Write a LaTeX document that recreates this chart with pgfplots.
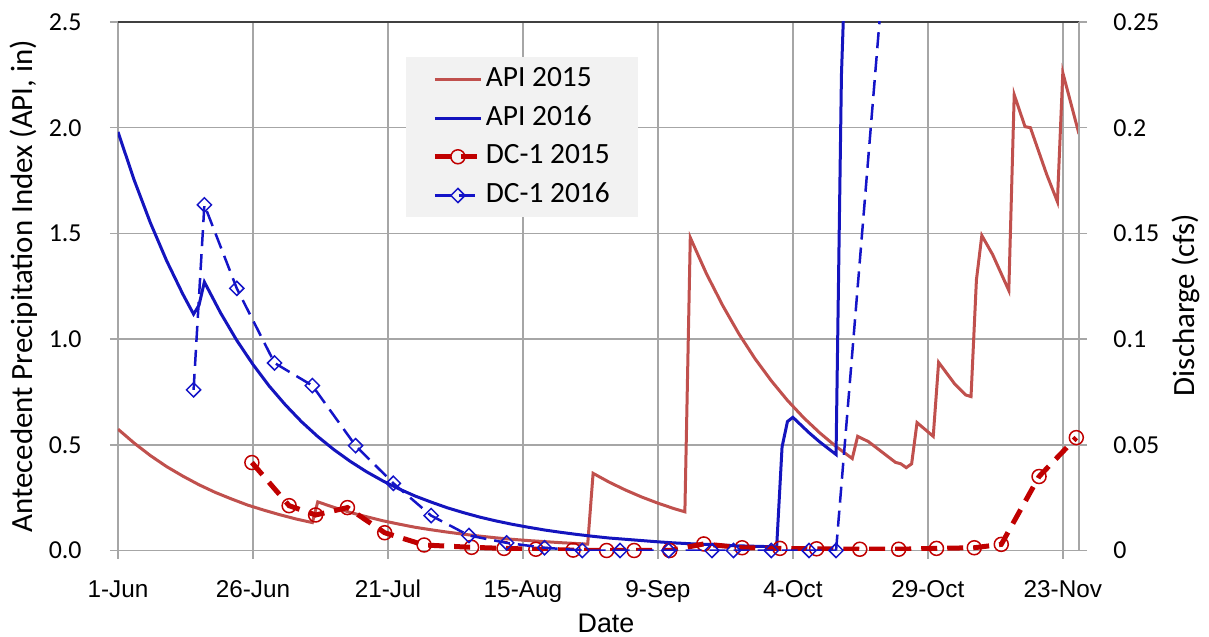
\documentclass[border=0pt]{standalone}
\usepackage{fontspec}
\setmainfont{Carlito}
\newfontfamily\arialf{Liberation Sans}
\usepackage{pgfplots}
\pgfplotsset{compat=1.18}

\definecolor{apiA}{RGB}{192,80,77}
\definecolor{apiB}{RGB}{20,20,190}
\definecolor{dcA}{RGB}{192,0,0}
\definecolor{dcB}{RGB}{20,20,200}
\definecolor{gridc}{RGB}{166,166,166}
\definecolor{legfill}{RGB}{242,242,242}

\begin{document}
\begin{tikzpicture}
\useasboundingbox (-59bp,-43.25bp) rectangle (545.5bp,275.25bp);
\pgfplotsset{
 common/.style={
  scale only axis, width=480.5bp, height=264.25bp,
  xmin=0, xmax=178, clip mode=individual,
  tick align=outside, major tick length=4bp,
  tick style={gridc, line width=0.75bp},
  axis line style={gridc, line width=0.75bp},
 }
}
\begin{axis}[common,
 ymin=0, ymax=2.5,
 ytick={0,0.5,1,1.5,2,2.5},
 yticklabels={0.0,0.5,1.0,1.5,2.0,2.5},
 xtick={0,25,50,75,100,125,150,175},
 xticklabels={1-Jun,26-Jun,21-Jul,15-Aug,9-Sep,4-Oct,29-Oct,23-Nov},
 xtick pos=bottom, ytick pos=left,
 grid=major, grid style={gridc, line width=0.75bp},
 yticklabel style={font=\fontsize{13}{15}\selectfont, inner sep=0pt, anchor=east, xshift=-14bp},
 xticklabel style={font=\arialf\fontsize{12.2}{14}\selectfont, inner sep=0pt, anchor=base, yshift=-19.25bp},
 ylabel={Antecedent Precipitation Index (API, in)},
 ylabel style={font=\fontsize{15.5}{18}\selectfont, at={(axis description cs:-0.0885,0.5)}, anchor=base},
 xlabel={Date},
 xlabel style={font=\arialf\fontsize{13.5}{16}\selectfont, at={(axis description cs:0.5078,0)}, anchor=base, yshift=-40.75bp},
]
\draw[black!75, line width=0.75bp] (rel axis cs:0,1) -- (rel axis cs:1,1);
% API 2015
\addplot[apiA, line width=1.5bp, mark=none] coordinates {
(0,0.574)(3,0.508)(6,0.449)(9,0.397)(12,0.352)(15,0.311)(18,0.275)(21,0.244)(24,0.215)(27,0.191)(30,0.169)(33,0.149)(36,0.132)(37,0.230)(40,0.204)(43,0.180)(46,0.160)(49,0.141)(52,0.125)(55,0.110)(58,0.098)(61,0.087)(64,0.077)(67,0.068)(70,0.060)(73,0.053)(76,0.047)(79,0.042)(82,0.037)(85,0.033)(87,0.030)(88,0.365)(91,0.323)(94,0.286)(97,0.253)(100,0.224)(103,0.198)(105,0.183)(106,1.480)(109,1.309)(112,1.159)(115,1.025)(118,0.907)(121,0.803)(124,0.710)(127,0.628)(130,0.556)(133,0.492)(136,0.435)(137,0.540)(139,0.515)(144,0.417)(145,0.410)(146,0.392)(147,0.410)(148,0.605)(151,0.540)(152,0.890)(155,0.787)(157,0.736)(158,0.728)(159,1.280)(160,1.490)(162,1.400)(165,1.230)(166,2.156)(168,2.005)(169,2.000)(172,1.780)(174,1.650)(175,2.260)(178,1.970)
};
% API 2016
\addplot[apiB, line width=1.5bp, mark=none] coordinates {
(0,1.980)(3,1.752)(6,1.550)(9,1.371)(12,1.213)(14,1.118)(15,1.160)(16,1.270)(19,1.124)(22,0.994)(25,0.880)(28,0.778)(31,0.689)(34,0.609)(37,0.539)(40,0.477)(43,0.422)(46,0.373)(49,0.330)(52,0.292)(55,0.258)(58,0.229)(61,0.202)(64,0.179)(67,0.158)(70,0.140)(73,0.124)(76,0.110)(79,0.097)(82,0.086)(85,0.076)(88,0.067)(91,0.059)(94,0.053)(97,0.047)(100,0.041)(103,0.036)(106,0.032)(109,0.029)(112,0.025)(115,0.022)(118,0.020)(121,0.018)(122,0.017)(123,0.490)(124,0.610)(125,0.630)(128,0.557)(130,0.513)(133,0.454)(134,2.250)(135,3.000)
};
\end{axis}

\begin{axis}[common,
 ymin=0, ymax=0.25,
 axis y line*=right, axis x line=none,
 ytick={0,0.05,0.1,0.15,0.2,0.25},
 yticklabels={0,0.05,0.1,0.15,0.2,0.25},
 yticklabel style={font=\fontsize{13}{15}\selectfont, inner sep=0pt, anchor=west, xshift=13bp},
 ylabel={Discharge (cfs)},
 ylabel style={font=\fontsize{15.5}{18}\selectfont, at={(axis description cs:1.1207,0.4645)}, anchor=base},
 legend style={at={(axis description cs:0.2997,0.9338)}, anchor=north west,
   fill=legfill, draw=none, font=\fontsize{14.75}{17}\selectfont,
   inner xsep=13bp, inner ysep=2.5bp, row sep=2.35bp,
   nodes={inner xsep=1.25bp, inner ysep=2bp, text height=10bp, text depth=3bp}},
 legend cell align=left,
 legend image code/.code={\draw[mark repeat=2,mark phase=2,#1] plot coordinates {(0bp,0bp) (11.5bp,0bp) (23bp,0bp)};},
]
\addlegendimage{apiA, line width=1.5bp, no markers}
\addlegendentry{API 2015}
\addlegendimage{apiB, line width=1.5bp, no markers}
\addlegendentry{API 2016}
% DC-1 2015
\addplot[dcA, line width=2.5bp, dash pattern=on 8bp off 5bp, mark=o, mark size=3.5bp, mark options={solid, line width=0.75bp}] coordinates {
(24.8,0.0416)(31.7,0.0212)(36.6,0.0168)(42.5,0.0203)(49.4,0.0084)(56.7,0.0026)(65.5,0.0015)(71.5,0.0010)(77.4,0.0006)(84.3,0.0002)(90.5,0)(95.6,0)(102.2,0)(108.5,0.0031)(115.6,0.0013)(122.6,0.0010)(129.4,0.0008)(137.4,0.0006)(144.6,0.0006)(151.6,0.0010)(158.6,0.0013)(163.6,0.0029)(170.6,0.0350)(177.5,0.0534)
};
\addlegendentry{DC-1 2015}
% DC-1 2016
\addplot[dcB, line width=1.25bp, dash pattern=on 8bp off 4bp, mark=square, mark size=2.5bp, mark options={solid, rotate=45, line width=0.75bp}] coordinates {
(14,0.0760)(16,0.1635)(22,0.1240)(29,0.0887)(36,0.0780)(44,0.0496)(51,0.0318)(58,0.0165)(65,0.0071)(72,0.0036)(79,0.0013)(86,0)(93,0)(102,0)(110,0)(114,0)(121,0)(128,0)(133,0)
};
\addlegendentry{DC-1 2016}
\addplot[dcB, line width=1.25bp, dash pattern=on 8bp off 4bp, mark=none, forget plot] coordinates {(133,0)(142,0.2800)};
\end{axis}
\end{tikzpicture}
\end{document}
